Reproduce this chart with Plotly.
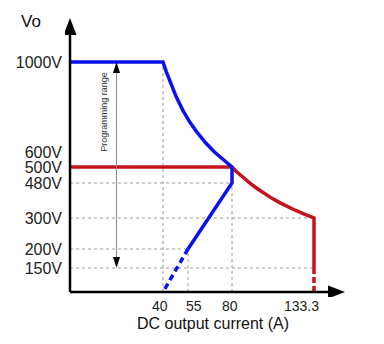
import numpy as np
import plotly.graph_objects as go

# ---------------- data (current in A, voltage in V) ----------------
current_ticks = [40, 55, 80, 133.3]
current_tick_labels = ["40", "55", "80", "133.3"]
voltage_ticks = [150, 200, 300, 480, 500, 600, 1000]
voltage_tick_labels = ["150V", "200V", "300V", "480V", "500V", "600V", "1000V"]

# 1000 V unit: constant voltage, constant power, then down the 480 V limit line
blue_current = [0, 40, 42, 45, 48, 52, 56, 60, 65, 70, 75, 80, 80, 55]
blue_voltage = [1000, 1000, 956, 896, 844, 784, 733, 689, 641, 600, 547, 500, 480, 200]
blue_ext_current = [55, 40]
blue_ext_voltage = [200, 0]

# 500 V unit: constant voltage, constant power, then current limit
red_current = [0, 80, 83, 86, 89, 93, 97, 101, 106, 111, 116, 121, 127, 133.3, 133.3]
red_voltage = [500, 500, 494, 489, 484, 471, 448, 426, 401, 379, 359, 340, 320, 300, 150]
red_ext_current = [133.3, 133.3]
red_ext_voltage = [150, 0]

# dashed reference lines
hguide_voltage = [480, 300, 200, 150]
hguide_current_end = [80, 133.3, 55, 133.3]
vguide_current = [40, 55, 80]
vguide_voltage_end = [1000, 200, 480]

# programming range marker
range_current = 20
range_voltage = [150, 1000]
range_label_current = 14.3
range_label_voltage = 780

# ---------------- schematic (piecewise) axis scales ----------------
X_KNOTS_A = [0, 40, 55, 80, 133.3]
X_KNOTS_U = [0, 93, 118, 162, 244]
Y_KNOTS_V = [0, 150, 200, 300, 480, 500, 600, 1000]
Y_KNOTS_U = [0, 24, 43, 74, 109, 125, 140, 230]
X_END = 275   # arrow tip of the current axis
Y_END = 274   # arrow tip of the voltage axis
X_LABEL_SHIFT = [-3, 6, -2, -13]

W, H = 384, 344
M_L, M_R, M_T, M_B = 65, 29, 8, 47


def sx(a):
    return np.interp(np.asarray(a, dtype=float), X_KNOTS_A, X_KNOTS_U)


def sy(v):
    return np.interp(np.asarray(v, dtype=float), Y_KNOTS_V, Y_KNOTS_U)


def paper_x(px):
    return (px - M_L) / (W - M_L - M_R)


def paper_y(py):
    return (H - M_B - py) / (H - M_T - M_B)


BLUE = "#0a10f2"
RED = "#c4121c"
GRID = "#9a9a9a"
FONT = "Liberation Sans, Arial, sans-serif"

fig = go.Figure()

# dashed guides
for v, a_end in zip(hguide_voltage, hguide_current_end):
    fig.add_trace(go.Scatter(x=sx([0, a_end]), y=sy([v, v]), mode="lines",
                             line=dict(color=GRID, width=1, dash="3px,3px"),
                             hoverinfo="skip", showlegend=False))
for a, v_end in zip(vguide_current, vguide_voltage_end):
    fig.add_trace(go.Scatter(x=sx([a, a]), y=sy([0, v_end]), mode="lines",
                             line=dict(color=GRID, width=1, dash="3px,3px"),
                             hoverinfo="skip", showlegend=False))

# red characteristic
fig.add_trace(go.Scatter(x=sx(red_current), y=sy(red_voltage), mode="lines",
                         line=dict(color=RED, width=3.5), showlegend=False))
fig.add_trace(go.Scatter(x=sx(red_ext_current), y=sy(red_ext_voltage), mode="lines",
                         line=dict(color=RED, width=3.5, dash="6px,3px"), showlegend=False))

# blue characteristic
fig.add_trace(go.Scatter(x=sx(blue_current), y=sy(blue_voltage), mode="lines",
                         line=dict(color=BLUE, width=3.5), showlegend=False))
fig.add_trace(go.Scatter(x=sx(blue_ext_current), y=sy(blue_ext_voltage), mode="lines",
                         line=dict(color=BLUE, width=3.5, dash="6px,4px"), showlegend=False))

# programming range double arrow
rx = float(sx(range_current))
ry0, ry1 = [float(t) for t in sy(range_voltage)]
fig.add_trace(go.Scatter(x=[rx, rx], y=[ry0 + 8, ry1 - 8], mode="lines",
                         line=dict(color="#8a8a8a", width=1), showlegend=False))

shapes = []
# axes
shapes.append(dict(type="line", xref="x", yref="y", x0=0, y0=0, x1=X_END - 8, y1=0,
                   line=dict(color="black", width=2.5)))
shapes.append(dict(type="line", xref="x", yref="y", x0=0, y0=0, x1=0, y1=Y_END - 8,
                   line=dict(color="black", width=2.5)))
# arrowheads (pixel sized)
shapes.append(dict(type="path", xref="x", yref="y", xsizemode="pixel", ysizemode="pixel",
                   xanchor=X_END, yanchor=0, path="M 0,0 L -17,6.5 L -17,-6.5 Z",
                   fillcolor="black", line=dict(width=0)))
shapes.append(dict(type="path", xref="x", yref="y", xsizemode="pixel", ysizemode="pixel",
                   xanchor=0, yanchor=Y_END, path="M 0,0 L -6.5,-17 L 6.5,-17 Z",
                   fillcolor="black", line=dict(width=0)))
shapes.append(dict(type="path", xref="x", yref="y", xsizemode="pixel", ysizemode="pixel",
                   xanchor=rx, yanchor=ry1, path="M 0,0 L -3.5,-11 L 3.5,-11 Z",
                   fillcolor="black", line=dict(width=0)))
shapes.append(dict(type="path", xref="x", yref="y", xsizemode="pixel", ysizemode="pixel",
                   xanchor=rx, yanchor=ry0, path="M 0,0 L -3.5,11 L 3.5,11 Z",
                   fillcolor="black", line=dict(width=0)))

annotations = [
    dict(text="Programming range", x=float(sx(range_label_current)),
         y=float(sy(range_label_voltage)), xref="x", yref="y", showarrow=False,
         textangle=-90, font=dict(family=FONT, size=9, color="#333333")),
    dict(text="Vo", x=paper_x(31), y=paper_y(22), xref="paper", yref="paper",
         xanchor="center", yanchor="middle",
         showarrow=False, font=dict(family=FONT, size=17, color="#111111")),
    dict(text="DC output current (A)", x=paper_x(213), y=paper_y(323),
         xref="paper", yref="paper", xanchor="center", yanchor="middle",
         showarrow=False, font=dict(family=FONT, size=16, color="#111111")),
]
# current tick labels under the axis
for a, lab, shift in zip(current_ticks, current_tick_labels, X_LABEL_SHIFT):
    annotations.append(dict(text=lab, x=float(sx(a)), y=0, xref="x", yref="y",
                            showarrow=False, xanchor="center", yanchor="top",
                            xshift=shift, yshift=-4,
                            font=dict(family=FONT, size=14, color="#222222")))

fig.update_layout(
    width=W, height=H,
    margin=dict(l=M_L, r=M_R, t=M_T, b=M_B),
    paper_bgcolor="white", plot_bgcolor="white",
    showlegend=False,
    shapes=shapes,
    annotations=annotations,
    xaxis=dict(range=[-5, 285], showgrid=False, zeroline=False, showline=False,
               showticklabels=False, ticks="", fixedrange=True),
    yaxis=dict(range=[-5, 284], showgrid=False, zeroline=False, showline=False,
               tickvals=sy(voltage_ticks), ticktext=voltage_tick_labels, ticks="",
               tickfont=dict(family=FONT, size=16, color="#222222"),
               ticklabelstandoff=2, fixedrange=True),
)

fig.write_html("out.html")
